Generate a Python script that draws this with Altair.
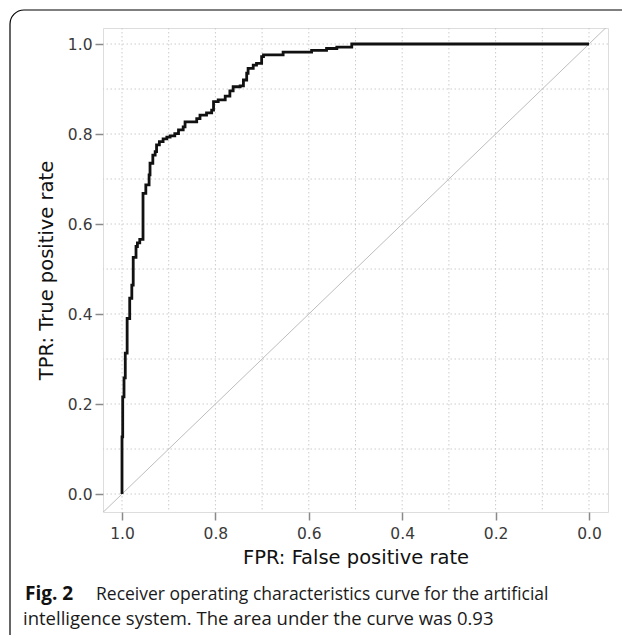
import altair as alt
import pandas as pd

# ROC curve (specificity on x, sensitivity on y)
spec = [1.0, 1.0, 0.9985, 0.9985, 0.9957, 0.9957, 0.993, 0.993, 0.989, 0.989,
        0.9835, 0.9835, 0.979, 0.979, 0.976, 0.976, 0.970, 0.970, 0.967, 0.967,
        0.962, 0.962, 0.955, 0.955, 0.949, 0.949, 0.942, 0.942, 0.940, 0.940,
        0.934, 0.934, 0.929, 0.929, 0.926, 0.926, 0.920, 0.920, 0.912, 0.912,
        0.904, 0.904, 0.897, 0.897, 0.887, 0.887, 0.879, 0.879, 0.869, 0.869,
        0.865, 0.865, 0.840, 0.840, 0.833, 0.833, 0.819, 0.819, 0.808, 0.808,
        0.804, 0.804, 0.794, 0.794, 0.779, 0.779, 0.769, 0.769, 0.762, 0.762,
        0.747, 0.747, 0.740, 0.740, 0.733, 0.733, 0.730, 0.730, 0.719, 0.719,
        0.712, 0.712, 0.701, 0.701, 0.697, 0.697, 0.655, 0.655, 0.594, 0.594,
        0.562, 0.562, 0.540, 0.540, 0.508, 0.508, 0.0]
sens = [0.0, 0.127, 0.127, 0.216, 0.216, 0.258, 0.258, 0.313, 0.313, 0.390,
        0.390, 0.435, 0.435, 0.464, 0.464, 0.526, 0.526, 0.550, 0.550, 0.558,
        0.558, 0.566, 0.566, 0.668, 0.668, 0.687, 0.687, 0.709, 0.709, 0.735,
        0.735, 0.753, 0.753, 0.761, 0.761, 0.776, 0.776, 0.783, 0.783, 0.789,
        0.789, 0.793, 0.793, 0.796, 0.796, 0.801, 0.801, 0.809, 0.809, 0.816,
        0.816, 0.827, 0.827, 0.834, 0.834, 0.842, 0.842, 0.847, 0.847, 0.853,
        0.853, 0.872, 0.872, 0.876, 0.876, 0.884, 0.884, 0.896, 0.896, 0.905,
        0.905, 0.907, 0.907, 0.920, 0.920, 0.935, 0.935, 0.946, 0.946, 0.953,
        0.953, 0.957, 0.957, 0.972, 0.972, 0.976, 0.976, 0.982, 0.982, 0.986,
        0.986, 0.990, 0.990, 0.993, 0.993, 1.0, 1.0]

diag_x = [1.0407, -0.0407]
diag_y = [-0.0407, 1.0407]

grid_vals = [0.0, 0.1, 0.2, 0.3, 0.4, 0.5, 0.6, 0.7, 0.8, 0.9, 1.0]
tick_vals = [0.0, 0.2, 0.4, 0.6, 0.8, 1.0]

x_title = "FPR: False positive rate"
y_title = "TPR: True positive rate"
cap_bold = "Fig. 2"
cap_line1 = "Receiver operating characteristics curve for the artificial"
cap_line2 = "intelligence system. The area under the curve was 0.93"

roc = pd.DataFrame({"spec": spec, "sens": sens, "i": list(range(len(spec)))})
diag = pd.DataFrame({"spec": diag_x, "sens": diag_y})
grid = pd.DataFrame({"g": grid_vals})
one = pd.DataFrame({"k": [0]})

xs = alt.Scale(domain=[-0.0407, 1.0407], reverse=True, nice=False, zero=False)
ys = alt.Scale(domain=[-0.04, 1.0356], nice=False, zero=False)

xaxis = alt.Axis(values=tick_vals, format=".1f", grid=False, domain=False,
                 tickColor="#8a8a8a", tickSize=8, tickWidth=1.5,
                 labelFontSize=15.5, labelColor="#3a3a3a", labelFont="DejaVu Sans",
                 labelPadding=6, title=x_title, titleFont="DejaVu Sans",
                 titleFontSize=19.5, titleFontWeight="normal", titleColor="#111111",
                 titlePadding=7)
yaxis = alt.Axis(values=tick_vals, format=".1f", grid=False, domain=False,
                 tickColor="#8a8a8a", tickSize=8, tickWidth=1.5,
                 labelFontSize=15.5, labelColor="#3a3a3a", labelFont="DejaVu Sans",
                 labelPadding=3, title=y_title, titleFont="DejaVu Sans",
                 titleFontSize=19.5, titleFontWeight="normal", titleColor="#111111",
                 titlePadding=11)

frame = alt.Chart(one).mark_rect(
    fill=None, stroke="#000000", strokeWidth=1.2, cornerRadius=14, clip=False
).encode(x=alt.value(-93), x2=alt.value(560), y=alt.value(-18), y2=alt.value(660))

vgrid = alt.Chart(grid).mark_rule(color="#cccccc", strokeWidth=1, strokeDash=[1.5, 2.5]).encode(
    x=alt.X("g:Q", scale=xs, axis=xaxis))
hgrid = alt.Chart(grid).mark_rule(color="#cccccc", strokeWidth=1, strokeDash=[1.5, 2.5]).encode(
    y=alt.Y("g:Q", scale=ys, axis=yaxis))

diag_line = alt.Chart(diag).mark_line(color="#bdbdbd", strokeWidth=1, clip=True).encode(
    x=alt.X("spec:Q", scale=xs), y=alt.Y("sens:Q", scale=ys))

curve = alt.Chart(roc).mark_line(color="#111111", strokeWidth=2.8, clip=True,
                                 strokeJoin="miter").encode(
    x=alt.X("spec:Q", scale=xs), y=alt.Y("sens:Q", scale=ys), order="i:Q")

cap_font = "Open Sans"
t_bold = alt.Chart(one).mark_text(align="left", baseline="alphabetic", font=cap_font,
                                  fontSize=19, fontWeight="bold", color="#111111").encode(
    x=alt.value(-78), y=alt.value(572), text=alt.value(cap_bold))
t_l1 = alt.Chart(one).mark_text(align="left", baseline="alphabetic", font=cap_font,
                                fontSize=17.5, color="#1a1a1a").encode(
    x=alt.value(-7), y=alt.value(572), text=alt.value(cap_line1))
t_l2 = alt.Chart(one).mark_text(align="left", baseline="alphabetic", font=cap_font,
                                fontSize=18.5, color="#1a1a1a").encode(
    x=alt.value(-80), y=alt.value(597), text=alt.value(cap_line2))

chart = alt.layer(frame, vgrid, hgrid, diag_line, curve, t_bold, t_l1, t_l2).properties(
    width=505, height=484,
    autosize=alt.AutoSizeParams(type="none"),
    padding={"left": 95, "top": 20, "right": 14, "bottom": 123},
).configure_view(stroke="#8a8a8a", strokeWidth=2).configure(background="white")

chart.save("out.html", embed_options={"renderer": "svg", "actions": False})
